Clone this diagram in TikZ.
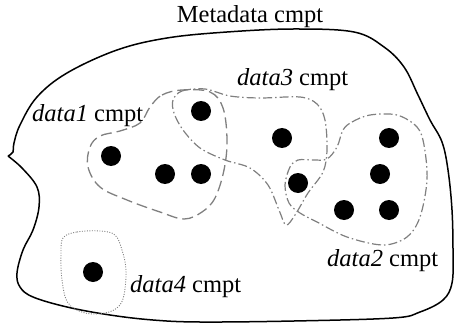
\documentclass[tikz,border=0pt]{standalone}
\usepackage{fontspec}
\setmainfont{Liberation Serif}
\begin{document}
\begin{tikzpicture}[x=1pt,y=-1pt,
  dot/.style={circle,fill=black,minimum size=20pt,inner sep=0pt},
  lbl/.style={anchor=base west,inner sep=0pt,font=\fontsize{24.5}{28}\selectfont},
  outerline/.style={draw=black,line width=1.5pt},
  dashblob/.style={draw=gray,line width=1.3pt,dash pattern=on 11pt off 5pt},
  dotdashblob/.style={draw=gray,line width=1.2pt,dash pattern=on 9pt off 3pt on 1.5pt off 3pt},
  dottedblob/.style={draw=gray,line width=0.9pt,dash pattern=on 1pt off 1.5pt}]
\useasboundingbox (0,0) rectangle (454,323);
% outer metadata compartment
\draw[outerline] plot[smooth,tension=0.6] coordinates {
  (8,156) (13,152) (14,143) (20,125) (37,97) (67,73) (117,50) (167,38) (227,32)
  (294,29) (354,32) (384,47) (404,67) (418,95) (430,120) (442,142) (448,170)
  (452,210) (453,253) (452,283) (443,300) (420,312) (393,318) (294,321) (200,322)
  (153,320) (110,315) (67,307) (33,297) (20,287) (17,273) (23,250) (33,230)
  (39,207) (37,187) (22,168) (8,156)};
% data1 compartment
\draw[dashblob] plot[smooth cycle,tension=0.6] coordinates {
  (150,107) (162,95) (182,90) (210,92) (223,108) (227,140) (224,170) (215,198)
  (202,212) (184,219) (160,212) (127,200) (100,187) (88,167) (90,147) (100,136)
  (120,131) (140,123)};
% data3 compartment
\draw[dotdashblob] plot[smooth cycle,tension=0.55] coordinates {
  (173,100) (182,91) (205,89) (230,96) (260,98) (300,97) (317,104) (325,120)
  (327,150) (323,172) (308,193) (295,215) (286,225) (279,210) (268,185) (250,168)
  (225,160) (200,148) (183,130) (174,113)};
% data2 compartment
\draw[dotdashblob] plot[smooth cycle,tension=0.55] coordinates {
  (343,130) (352,122) (370,115) (397,115) (417,127) (424,145) (427,180) (420,217)
  (407,237) (383,245) (347,237) (317,222) (300,213) (289,203) (285,185) (290,167)
  (298,160) (313,160) (327,159) (337,147)};
% data4 compartment
\draw[dottedblob] plot[smooth cycle,tension=0.6] coordinates {
  (63,238) (77,232) (100,231) (115,235) (122,250) (126,270) (124,295) (118,307)
  (105,313) (85,313) (68,303) (62,280) (61,255)};
% elements
\node[dot] (e1) at (201,111) {};
\node[dot] (e2) at (111,156) {};
\node[dot] (e3) at (165,174) {};
\node[dot] (e4) at (201,174) {};
\node[dot] (e5) at (282,138) {};
\node[dot] (e6) at (389,138) {};
\node[dot] (e7) at (380,174) {};
\node[dot] (e8) at (298,183) {};
\node[dot] (e9) at (344,210) {};
\node[dot] (e10) at (389,210) {};
\node[dot] (e11) at (93,272) {};
% labels
\node[lbl,anchor=base] (tmeta) at (250,23) {Metadata cmpt};
\node[lbl] (t1) at (32,122) {\textit{data1} cmpt};
\node[lbl] (t3) at (237,86) {\textit{data3} cmpt};
\node[lbl] (t2) at (327,266) {\textit{data2} cmpt};
\node[lbl] (t4) at (130,292) {\textit{data4} cmpt};
\end{tikzpicture}
\end{document}
